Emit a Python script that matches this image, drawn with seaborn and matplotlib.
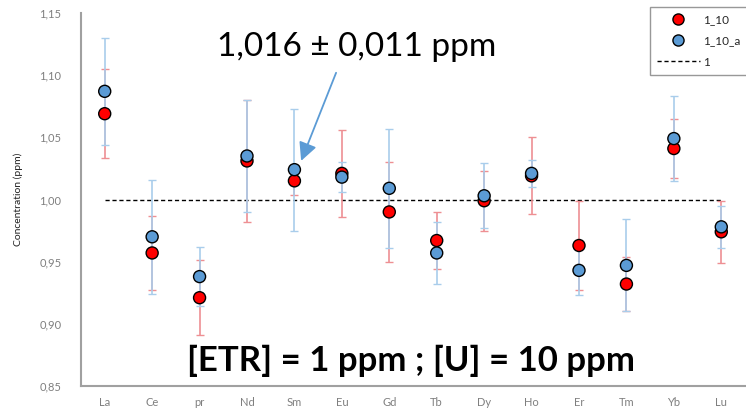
import pandas as pd
import seaborn as sns
import matplotlib.pyplot as plt
from matplotlib.lines import Line2D


elements = ['La', 'Ce', 'pr', 'Nd', 'Sm', 'Eu', 'Gd', 'Tb', 'Dy', 'Ho', 'Er', 'Tm', 'Yb', 'Lu']

# serie 1_10 (rouge)
conc_1_10 = [1.069, 0.957, 0.921, 1.031, 1.015, 1.021, 0.990, 0.967, 0.999, 1.019, 0.963, 0.932, 1.041, 0.974]
err_1_10 = [0.036, 0.030, 0.030, 0.049, 0.011, 0.035, 0.040, 0.023, 0.024, 0.031, 0.036, 0.022, 0.024, 0.025]

# serie 1_10_a (bleu)
conc_1_10_a = [1.087, 0.970, 0.938, 1.035, 1.024, 1.018, 1.009, 0.957, 1.003, 1.021, 0.943, 0.947, 1.049, 0.978]
err_1_10_a = [0.043, 0.046, 0.024, 0.045, 0.049, 0.012, 0.048, 0.025, 0.026, 0.011, 0.020, 0.037, 0.034, 0.017]

reference = [1.0] * len(elements)
y_ticks = [0.85, 0.90, 0.95, 1.00, 1.05, 1.10, 1.15]

red = '#FF0000'
blue = '#5B9BD5'

data = pd.DataFrame({
    'element': elements * 2,
    'conc': conc_1_10 + conc_1_10_a,
    'serie': ['1_10'] * len(elements) + ['1_10_a'] * len(elements),
})

sns.set_style('white')
plt.rcParams['font.family'] = ['Lato', 'DejaVu Sans']

fig = plt.figure(figsize=(7.46, 4.11), dpi=100)
ax = fig.add_axes([81 / 746, 25 / 411, 664 / 746, 373 / 411])

# barres d'erreur
ax.errorbar(elements, conc_1_10, yerr=err_1_10, fmt='none', ecolor='#EE8F93',
            elinewidth=1.2, capsize=3, capthick=1.0, zorder=2)
ax.errorbar(elements, conc_1_10_a, yerr=err_1_10_a, fmt='none', ecolor='#A9CDEB',
            elinewidth=1.2, capsize=3, capthick=1.0, zorder=2)

ax.plot(elements, reference, color='black', linestyle=(0, (3, 2)), linewidth=1.0, zorder=1)

sns.scatterplot(data=data, x='element', y='conc', hue='serie',
                palette={'1_10': red, '1_10_a': blue}, s=75,
                edgecolor='black', linewidth=1.0, legend=False, zorder=3, ax=ax)

ax.set_xlim(-0.5, len(elements) - 0.5)
ax.set_ylim(0.85, 1.15)
ax.set_yticks(y_ticks)
ax.set_yticklabels([f'{v:.2f}'.replace('.', ',') for v in y_ticks])
ax.set_xticks(range(len(elements)))
ax.set_xticklabels(elements)
ax.set_xticks([i - 0.5 for i in range(len(elements) + 1)], minor=True)
ax.tick_params(axis='x', which='major', length=0, pad=8, labelsize=8, labelcolor='#7F7F7F')
ax.tick_params(axis='x', which='minor', length=4, width=1.2, color='#A0A0A0', direction='out')
ax.tick_params(axis='y', length=4, width=1.2, color='#A0A0A0', direction='out',
               labelsize=8, labelcolor='#7F7F7F', pad=10)

ax.set_xlabel('')
ax.set_ylabel('Concentration (ppm)', fontsize=7.5, color='#222222', labelpad=12)

for side in ['top', 'right']:
    ax.spines[side].set_visible(False)
for side in ['left', 'bottom']:
    ax.spines[side].set_color('#A0A0A0')
    ax.spines[side].set_linewidth(1.5)

ax.text(0.415, 0.909, '1,016 \u00b1 0,011 ppm', transform=ax.transAxes,
        ha='center', va='center', fontsize=24, color='black')
ax.annotate('', xy=(4.12, 1.029), xytext=(4.9, 1.104),
            arrowprops=dict(arrowstyle='-|>,head_length=1.1,head_width=0.55',
                            color=blue, lw=1.3))
ax.text(0.497, 0.067, '[ETR] = 1 ppm ; [U] = 10 ppm', transform=ax.transAxes,
        ha='center', va='center', fontsize=25, fontweight='bold', color='black')

handles = [
    Line2D([], [], linestyle='none', marker='o', markersize=8, markerfacecolor=red,
           markeredgecolor='black'),
    Line2D([], [], linestyle='none', marker='o', markersize=8, markerfacecolor=blue,
           markeredgecolor='black'),
    Line2D([], [], color='black', linestyle=(0, (3, 2)), linewidth=1.0),
]
leg = ax.legend(handles, ['1_10', '1_10_a', '1'], loc='upper left',
                bbox_to_anchor=(0.857, 1.015), fontsize=8.5, frameon=True,
                fancybox=False, labelspacing=0.85, handlelength=3.6,
                handletextpad=0.3, borderpad=0.6, borderaxespad=0)
leg.get_frame().set_edgecolor('#7F7F7F')
leg.get_frame().set_linewidth(1.0)

fig.savefig('out.png', dpi=100)
